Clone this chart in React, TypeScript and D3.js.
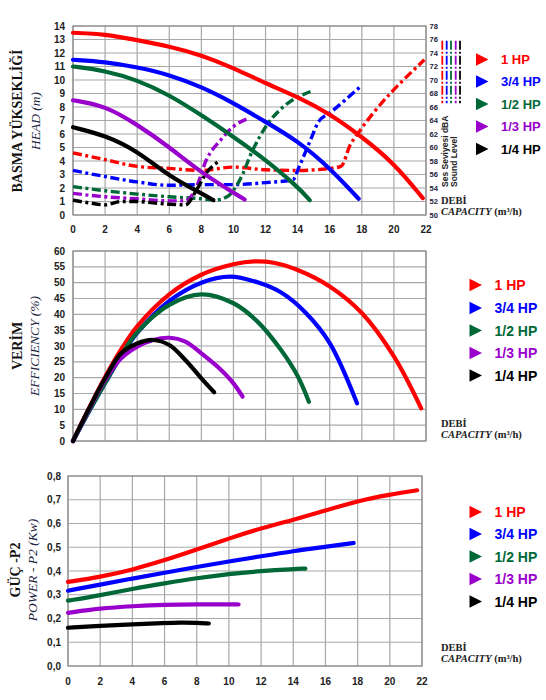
import React from 'react';
import * as d3 from 'd3';

type P = [number, number];

const SERIES = ['1 HP', '3/4 HP', '1/2 HP', '1/3 HP', '1/4 HP'];
const COLORS = ['#ff0000', '#0000ff', '#006837', '#9900cc', '#000000'];

const capTicks = d3.range(0, 23, 2);
const headTicks = d3.range(0, 15, 1);
const soundTicks = d3.range(50, 79, 2);
const effTicks = d3.range(0, 61, 5);
const powerTicks = [0, 0.1, 0.2, 0.3, 0.4, 0.5, 0.6, 0.7, 0.8];

// HEAD (m)
const head1: P[] = [[0, 13.5], [2, 13.4], [4, 12.95], [6, 12.5], [8, 11.85], [10, 10.9], [12, 9.75], [14, 8.75], [16, 7.5], [18, 5.8], [20, 3.85], [21.8, 1.25]];
const head34: P[] = [[0, 11.5], [2, 11.35], [4, 10.95], [6, 10.4], [8, 9.5], [10, 8.3], [12, 6.9], [14, 5.5], [16, 3.5], [17.8, 1.2]];
const head12: P[] = [[0, 11], [2, 10.7], [4, 10], [6, 8.9], [8, 7.4], [10, 5.8], [12, 4.1], [14, 2.1], [14.75, 1.1]];
const head13: P[] = [[0, 8.5], [2, 8.1], [4, 6.7], [6, 5.05], [8, 3.1], [10.7, 1.15]];
const head14: P[] = [[0, 6.5], [2, 5.9], [4, 4.75], [6, 2.85], [8, 1.6], [8.75, 1.1]];

// Sound level (dBA)
const sound1: P[] = [[0, 59.2], [2, 58.2], [4, 57.2], [6, 56.9], [8, 56.6], [10, 57.1], [12, 56.7], [14, 56.6], [16, 56.9], [16.7, 57.2], [17.3, 60.5], [17.7, 61.9], [21.9, 73]];
const sound34: P[] = [[0, 56.6], [2, 55.7], [4, 54.9], [6, 54.4], [8, 54.5], [10, 54.5], [12, 54.8], [13.7, 55.2], [14.1, 57.2], [14.8, 61.1], [15.3, 63.8], [16, 65.1], [17.9, 69]];
const sound12: P[] = [[0, 54.2], [2, 53.6], [4, 53.1], [6, 52.7], [8, 52.4], [8.8, 52.2], [9.6, 52.7], [10.4, 55.2], [11.2, 59.6], [12.1, 63.4], [13, 65.8], [14.8, 68.3]];
const sound13: P[] = [[0, 53.2], [2, 52.7], [4, 52.4], [6, 52.1], [7, 52.1], [7.7, 54.2], [8.3, 58.1], [9.2, 61.1], [10, 63.1], [10.9, 64.3]];
const sound14: P[] = [[0, 52.2], [1, 51.8], [2, 51.5], [3, 52], [4, 52], [5, 51.8], [6, 51.6], [7, 51.5], [7.7, 53.7], [8.3, 56.2], [9.05, 57.9]];

// EFFICIENCY (%)
const eff1: P[] = [[0, 0], [1, 10.4], [2, 20.2], [3, 28.9], [4, 36.2], [6, 46.3], [8, 52.5], [10, 55.8], [11.3, 56.7], [12.5, 56.3], [14, 54], [16, 48.8], [18, 40.4], [20, 26.7], [21.7, 10.3]];
const eff34: P[] = [[0, 0], [1, 9.4], [2, 18.3], [3, 26.8], [4, 34.1], [6, 44.2], [8, 50], [9.8, 51.9], [11.5, 50.1], [13, 46.8], [14.5, 40.5], [16, 30.9], [17.7, 11.9]];
const eff12: P[] = [[0, 0], [1, 9.4], [2, 18.3], [3, 27], [4, 34.3], [6, 43], [8, 46.3], [10, 43.5], [11.5, 37.7], [13, 28.5], [14, 20.5], [14.7, 12.4]];
const eff13: P[] = [[0, 0], [1, 10], [2, 19.3], [3, 26.1], [4, 29.8], [5, 31.9], [6, 32.6], [7, 31.4], [8, 27.7], [9, 23.5], [10, 18.2], [10.57, 14]];
const eff14: P[] = [[0, 0], [1, 10.3], [2, 19.8], [3, 27.7], [4, 30.8], [5, 31.9], [6, 30.3], [7, 25.6], [8, 19.8], [8.8, 15.4]];

// POWER P2 (kW)
const pow1: P[] = [[0, 0.354], [2, 0.375], [4, 0.405], [6, 0.445], [8, 0.49], [10, 0.537], [12, 0.58], [14, 0.615], [16, 0.655], [18, 0.695], [20, 0.722], [21.7, 0.74]];
const pow34: P[] = [[0, 0.317], [2, 0.343], [4, 0.368], [6, 0.393], [8, 0.417], [10, 0.44], [12, 0.462], [14, 0.484], [16, 0.502], [17.75, 0.518]];
const pow12: P[] = [[0, 0.275], [2, 0.298], [4, 0.325], [6, 0.348], [8, 0.37], [10, 0.388], [12, 0.4], [14, 0.408], [14.75, 0.41]];
const pow13: P[] = [[0, 0.224], [2, 0.243], [4, 0.252], [6, 0.258], [8, 0.26], [10, 0.26], [10.6, 0.259]];
const pow14: P[] = [[0, 0.161], [2, 0.169], [4, 0.176], [6, 0.181], [7, 0.183], [8, 0.182], [8.75, 0.179]];

const headSeries = [head1, head34, head12, head13, head14];
const soundSeries = [sound1, sound34, sound12, sound13, sound14];
const effSeries = [eff1, eff34, eff12, eff13, eff14];
const powSeries = [pow1, pow34, pow12, pow13, pow14];

const SANS = '"Liberation Sans", Arial, sans-serif';
const SERIF = '"Liberation Serif", "Times New Roman", serif';
const GRID = '#a8a8a8';
const DASH = '9,3.5,3,3.5';

function Grid({ x, y, xt, yt }: any) {
  const [x0, x1] = x.range();
  const [y0, y1] = y.range();
  return (
    <g>
      {xt.map((t: number) => (
        <line key={'v' + t} x1={x(t)} x2={x(t)} y1={y0} y2={y1} stroke={GRID} strokeWidth={1.2} />
      ))}
      {yt.map((t: number) => (
        <line key={'h' + t} x1={x0} x2={x1} y1={y(t)} y2={y(t)} stroke={GRID} strokeWidth={1.2} />
      ))}
      <rect x={x0} y={y1} width={x1 - x0} height={y0 - y1} fill="none" stroke="#8c8c8c" strokeWidth={1.2} />
    </g>
  );
}

function YLabels({ y, ticks, xr, fmt }: any) {
  return (
    <g>
      {ticks.map((t: number) => (
        <text key={t} x={xr} y={y(t)} dy="0.35em" textAnchor="end" fontFamily={SANS} fontWeight="bold" fontSize={10} fill="#222">
          {fmt ? fmt(t) : t}
        </text>
      ))}
    </g>
  );
}

function XLabels({ x, ticks, yc }: any) {
  return (
    <g>
      {ticks.map((t: number) => (
        <text key={t} x={x(t)} y={yc} dy="0.35em" textAnchor="middle" fontFamily={SANS} fontWeight="bold" fontSize={10} fill="#222">
          {t}
        </text>
      ))}
    </g>
  );
}

function Legend({ x, ys, size }: any) {
  return (
    <g>
      {SERIES.map((s, i) => (
        <g key={s}>
          <path d={`M${x},${ys[i] - 6.3}L${x + 12.5},${ys[i]}L${x},${ys[i] + 6.3}Z`} fill={COLORS[i]} />
          <text x={x + 25} y={ys[i]} dy="0.36em" fontFamily={SANS} fontWeight="bold" fontSize={size} fill={COLORS[i]}>
            {s}
          </text>
        </g>
      ))}
    </g>
  );
}

function Capacity({ x, y }: any) {
  return (
    <g fontFamily={SERIF} fontWeight="bold" fill="#222">
      <text x={x} y={y} fontSize={10.5}>DEBİ</text>
      <text x={x} y={y + 11} fontSize={10.5}>
        <tspan fontStyle="italic">CAPACITY</tspan>
        <tspan> (m³/h)</tspan>
      </text>
    </g>
  );
}

function YTitle({ x1, x2, yc, t1, t2 }: any) {
  return (
    <g fontFamily={SERIF}>
      <text transform={`translate(${x1},${yc}) rotate(-90)`} textAnchor="middle" dy="0.35em" fontWeight="bold" fontSize={14} fill="#111">
        {t1}
      </text>
      <text transform={`translate(${x2},${yc}) rotate(-90)`} textAnchor="middle" dy="0.35em" fontStyle="italic" fontSize={13.5} fill="#1c2541">
        {t2}
      </text>
    </g>
  );
}

export default function App() {
  // Top chart
  const xTop = d3.scaleLinear().domain([0, 22]).range([73, 426]);
  const yHead = d3.scaleLinear().domain([0, 14]).range([215, 26]);
  const ySound = d3.scaleLinear().domain([50, 78]).range([215, 26]);
  // Middle chart
  const xMid = d3.scaleLinear().domain([0, 22]).range([73, 426]);
  const yEff = d3.scaleLinear().domain([0, 60]).range([441, 251]);
  // Bottom chart
  const xBot = d3.scaleLinear().domain([0, 22]).range([68, 422]);
  const yPow = d3.scaleLinear().domain([0, 0.8]).range([666, 476]);

  const smooth = d3.curveBasis;
  const lineHead = d3.line<P>().x(d => xTop(d[0])).y(d => yHead(d[1])).curve(smooth);
  const lineSound = d3.line<P>().x(d => xTop(d[0])).y(d => ySound(d[1])).curve(d3.curveMonotoneX);
  const lineEff = d3.line<P>().x(d => xMid(d[0])).y(d => yEff(d[1])).curve(d3.curveCatmullRom.alpha(0.5));
  const linePow = d3.line<P>().x(d => xBot(d[0])).y(d => yPow(d[1])).curve(smooth);

  const styleLegendX = [442.3, 446.7, 451, 455.7, 460];

  return (
    <svg width={546} height={700} style={{ position: 'absolute', left: 0, top: 0, background: '#fff' }}>
      <rect width={546} height={700} fill="#fff" />

      {/* ===== TOP: HEAD + SOUND ===== */}
      <Grid x={xTop} y={yHead} xt={capTicks} yt={headTicks} />
      <YLabels y={yHead} ticks={headTicks} xr={65} />
      <XLabels x={xTop} ticks={capTicks} yc={229} />
      {soundTicks.map(t => (
        <text key={t} x={429.5} y={ySound(t)} dy="0.35em" fontFamily={SANS} fontWeight="bold" fontSize={7.5} fill="#1a1a3a">
          {t}
        </text>
      ))}
      {soundSeries.map((s, i) => (
        <path key={'s' + i} d={lineSound(s) || ''} fill="none" stroke={COLORS[i]} strokeWidth={3.4} strokeDasharray={DASH} />
      ))}
      {headSeries.map((s, i) => (
        <path key={'h' + i} d={lineHead(s) || ''} fill="none" stroke={COLORS[i]} strokeWidth={4.2} strokeLinecap="round" />
      ))}
      {COLORS.map((c, i) => (
        <line key={'ls' + i} x1={styleLegendX[i]} x2={styleLegendX[i]} y1={40.7} y2={103.3} stroke={c} strokeWidth={1.8} strokeDasharray="9,2,2,2" />
      ))}
      <g fontFamily={SANS} fontWeight="bold" fontSize={8.5} fill="#222">
        <text transform="translate(448,187) rotate(-90)">Ses Seviyesi dBA</text>
        <text transform="translate(456.5,187) rotate(-90)">Sound Level</text>
      </g>
      <Capacity x={441} y={204} />
      <Legend x={476} ys={[59.5, 81.5, 104, 126.5, 149]} size={13} />
      <YTitle x1={17} x2={35} yc={121} t1="BASMA YÜKSEKLİĞİ" t2="HEAD (m)" />

      {/* ===== MIDDLE: EFFICIENCY ===== */}
      <Grid x={xMid} y={yEff} xt={capTicks} yt={effTicks} />
      <YLabels y={yEff} ticks={effTicks} xr={65} />
      {effSeries.map((s, i) => (
        <path key={'e' + i} d={lineEff(s) || ''} fill="none" stroke={COLORS[i]} strokeWidth={4.2} strokeLinecap="round" />
      ))}
      <Capacity x={441} y={427} />
      <Legend x={469.5} ys={[285, 308, 330.5, 353, 375.5]} size={14} />
      <YTitle x1={17} x2={34} yc={346} t1="VERİM" t2="EFFICIENCY (%)" />

      {/* ===== BOTTOM: POWER ===== */}
      <Grid x={xBot} y={yPow} xt={capTicks} yt={powerTicks} />
      <YLabels y={yPow} ticks={powerTicks} xr={61} fmt={(t: number) => t.toFixed(1).replace('.', ',')} />
      <XLabels x={xBot} ticks={capTicks} yc={681} />
      {powSeries.map((s, i) => (
        <path key={'p' + i} d={linePow(s) || ''} fill="none" stroke={COLORS[i]} strokeWidth={4.2} strokeLinecap="round" />
      ))}
      <Capacity x={441} y={650.5} />
      <Legend x={469.5} ys={[512, 534, 556.5, 579, 601.5]} size={14} />
      <YTitle x1={15} x2={32} yc={570} t1="GÜÇ -P2" t2="POWER - P2 (Kw)" />
    </svg>
  );
}
